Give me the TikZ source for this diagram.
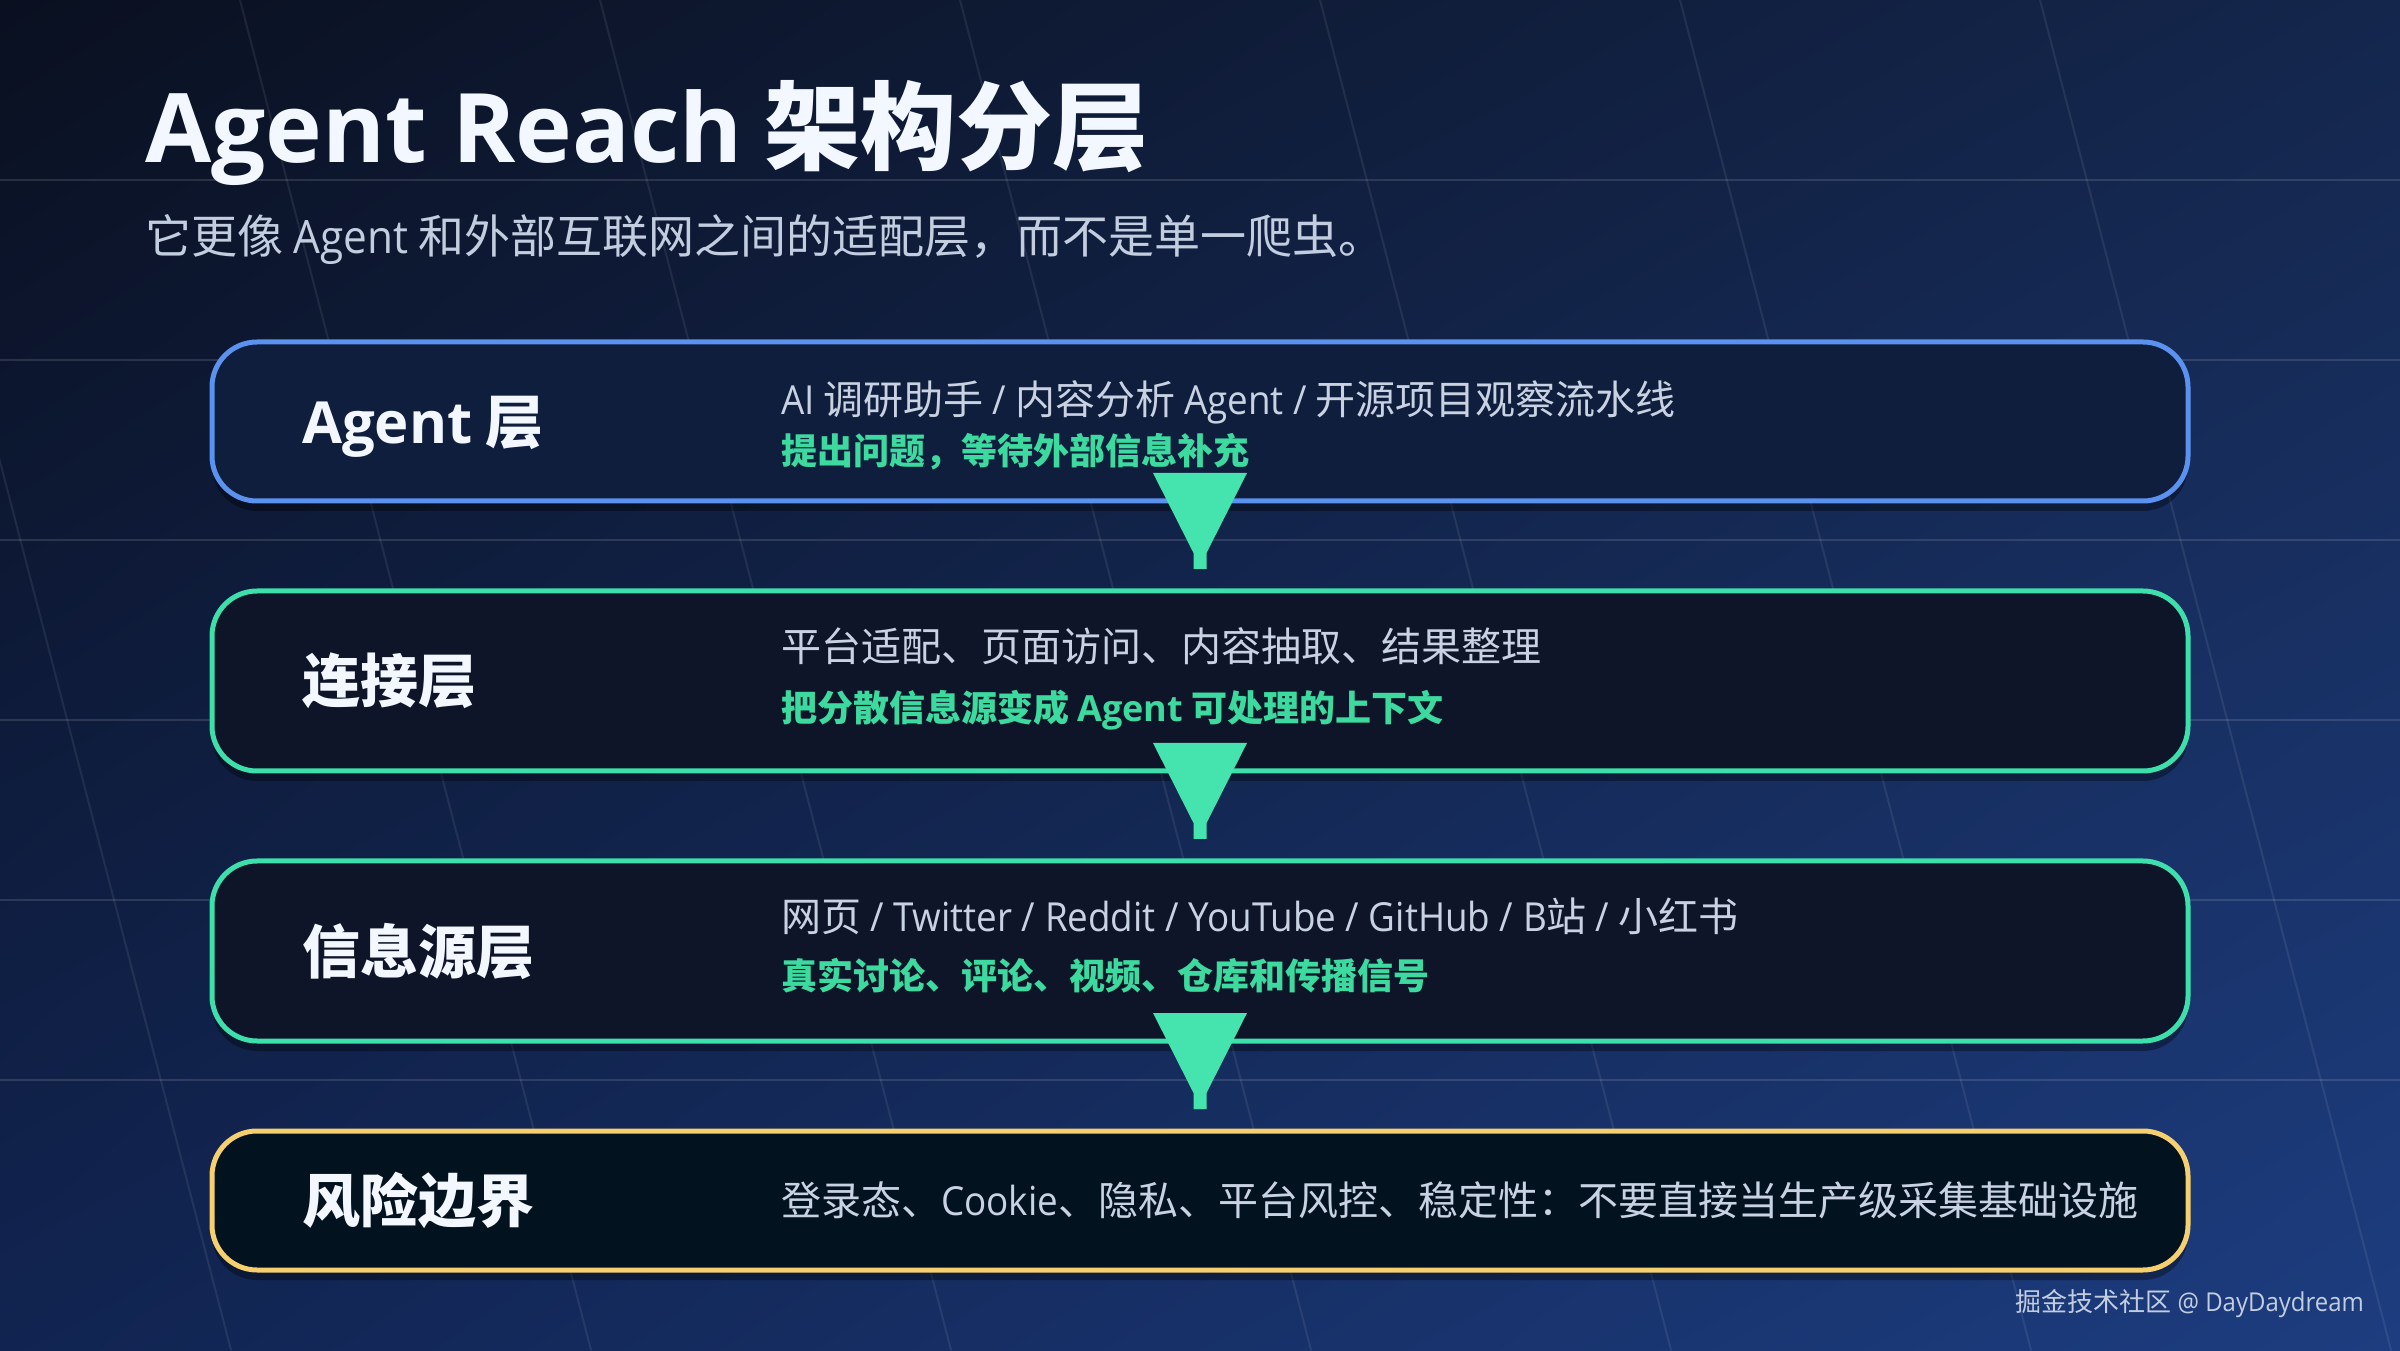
\documentclass[tikz,border=0pt]{standalone}
\usepackage{fontspec}
\setmainfont{Noto Sans CJK SC}
\newfontfamily\enfont{Open Sans}
\newfontfamily\enlight{Open Sans}[FakeStretch=0.92]
\newcommand{\en}[1]{{\enfont #1}}
\newcommand{\enr}[1]{{\enlight #1}}
\usetikzlibrary{positioning,shadows,shadings}

\definecolor{bgtl}{HTML}{0A1020}
\definecolor{bgtr}{HTML}{14264C}
\definecolor{bgbl}{HTML}{112451}
\definecolor{bgbr}{HTML}{1D3D80}
\definecolor{agentblue}{HTML}{5B92F0}
\definecolor{linkgreen}{HTML}{3DDFAA}
\definecolor{riskyellow}{HTML}{F6CF6F}
\definecolor{arrowgreen}{HTML}{45E3AD}
\definecolor{notegreen}{HTML}{3DDA9F}
\definecolor{softgray}{HTML}{C8D2E2}
\definecolor{subgray}{HTML}{C2CDE0}
\definecolor{brightwhite}{HTML}{F3F7FF}
\definecolor{fillone}{HTML}{0F1E3C}
\definecolor{filltwo}{HTML}{0E1529}
\definecolor{fillfour}{HTML}{03121F}

\tikzset{
  layer/.style={draw, line width=5pt, rounded corners=45pt, minimum width=1976pt,
    inner sep=0pt, outer sep=0pt,
    drop shadow={shadow xshift=0pt, shadow yshift=-10pt, opacity=0.35, fill=black}},
  txt/.style={inner sep=0pt, text height=#1, text depth=0pt, anchor=west},
  layername/.style={txt=44pt, text=brightwhite, font=\fontsize{58}{66}\selectfont\bfseries},
  detail/.style={txt=30.4pt, text=softgray, font=\fontsize{40}{48}\selectfont},
  note/.style={txt=27.4pt, text=notegreen, font=\fontsize{36}{44}\selectfont\bfseries},
  flow/.style={fill=arrowgreen},
  gridline/.style={white, opacity=0.12, line width=2pt},
}

\newcommand{\flowdown}[1]{%
  \fill[flow] ([shift={(-47,28)}]#1.south) -- ([shift={(47,28)}]#1.south)
    -- ([shift={(6.5,-52)}]#1.south) -- ([shift={(6.5,-68)}]#1.south)
    -- ([shift={(-6.5,-68)}]#1.south) -- ([shift={(-6.5,-52)}]#1.south) -- cycle;}

\begin{document}
\begin{tikzpicture}[x=1pt, y=1pt]
  \useasboundingbox (0,0) rectangle (2400,1350);
  \shade[upper left=bgtl, upper right=bgtr, lower left=bgbl, lower right=bgbr]
    (0,0) rectangle (2400,1350);

  % background grid
  \foreach \gy in {270,450,...,1170}
    \draw[gridline] (0,\gy) -- (2400,\gy);
  \foreach \gx in {-120,240,...,2040}
    \draw[gridline, opacity=0.08] (\gx,1350) -- (\gx+351,0);

  % heading
  \node[anchor=base west, inner sep=0pt, text=brightwhite,
    font=\fontsize{96}{110}\selectfont\bfseries] (title) at (145,1187)
    {\en{Agent Reach} 架构分层};
  \node[txt=35pt, text=subgray, font=\fontsize{46}{54}\selectfont] (subtitle) at (145,1113.5)
    {它更像 \enr{Agent} 和外部互联网之间的适配层，而不是单一爬虫。};

  % layers
  \node[layer, draw=agentblue, fill=fillone, minimum height=159pt] (agent) at (1200,928.5) {};
  \node[layer, draw=linkgreen, fill=filltwo, minimum height=180pt, below=90pt of agent] (link) {};
  \node[layer, draw=linkgreen, fill=filltwo, minimum height=180pt, below=90pt of link] (source) {};
  \node[layer, draw=riskyellow, fill=fillfour, minimum height=139pt, below=90pt of source] (risk) {};

  \flowdown{agent}
  \flowdown{link}
  \flowdown{source}

  \node[layername] (agentname) at ([xshift=90pt]agent.west) {\en{Agent} 层};
  \node[detail] (agenttop) at ([xshift=569pt, yshift=22.5pt]agent.west)
    {\enr{AI} 调研助手 \enr{/} 内容分析 \enr{Agent /} 开源项目观察流水线};
  \node[note] (agentnote) at ([xshift=569pt, yshift=-29.5pt]agent.west)
    {提出问题，等待外部信息补充};

  \node[layername] (linkname) at ([xshift=90pt]link.west) {连接层};
  \node[detail] (linktop) at ([xshift=569pt, yshift=35pt]link.west)
    {平台适配、页面访问、内容抽取、结果整理};
  \node[note] (linknote) at ([xshift=569pt, yshift=-27pt]link.west)
    {把分散信息源变成 \en{Agent} 可处理的上下文};

  \node[layername] (sourcename) at ([xshift=90pt]source.west) {信息源层};
  \node[detail] (sourcetop) at ([xshift=569pt, yshift=35pt]source.west)
    {网页 \enr{/ Twitter / Reddit / YouTube / GitHub / B}站 \enr{/} 小红书};
  \node[note] (sourcenote) at ([xshift=569pt, yshift=-25pt]source.west)
    {真实讨论、评论、视频、仓库和传播信号};

  \node[layername] (riskname) at ([xshift=90pt]risk.west) {风险边界};
  \node[detail] (risktext) at ([xshift=569pt]risk.west)
    {登录态、\enr{Cookie}、隐私、平台风控、稳定性：不要直接当生产级采集基础设施};

  % watermark
  \node[txt=19.8pt, anchor=east, text=subgray, font=\fontsize{26}{30}\selectfont] (mark) at (2364,48)
    {掘金技术社区 \enr{@ DayDaydream}};
\end{tikzpicture}
\end{document}
